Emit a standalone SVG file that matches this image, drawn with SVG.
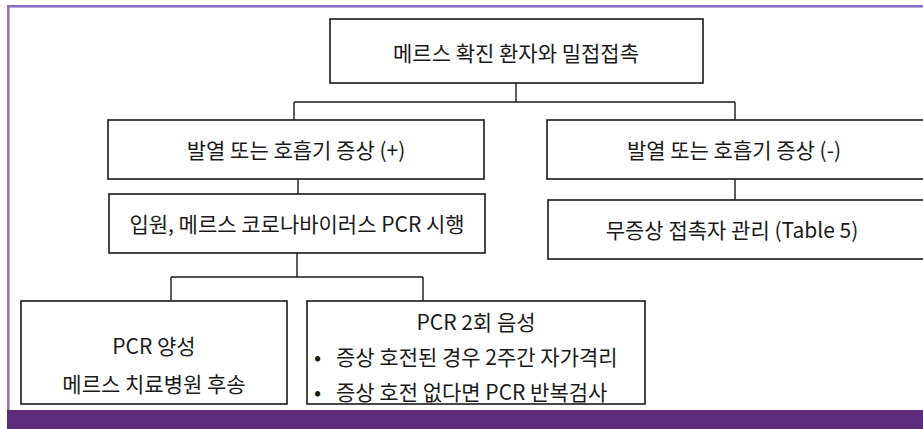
<svg xmlns="http://www.w3.org/2000/svg" width="923" height="429" viewBox="0 0 923 429">
<style>
.box{fill:#fff;stroke:#1a1a1a;stroke-width:1.6}
.con{fill:none;stroke:#1a1a1a;stroke-width:1.4}
text{font-family:"Noto Sans CJK KR","Noto Sans",sans-serif;font-size:21px;fill:#1a1a1a;dominant-baseline:central}
.c{text-anchor:middle}
</style>
<rect x="0" y="0" width="923" height="429" fill="#fff"/>
<rect x="7" y="5" width="916" height="2.6" fill="#8a70c8"/>
<rect x="7" y="5" width="2.6" height="406" fill="#8a70c8"/>
<rect x="7" y="410" width="916" height="19" fill="#5d2d7b"/>
<g id="connectors">
<path class="con" d="M516 83V102M294 102H735M294 102V120M735 102V120"/>
<path class="con" d="M298 179V194M735 179V200"/>
<path class="con" d="M297 253V277M171 277H423M171 277V301M423 277V301"/>
</g>
<g id="n1"><rect class="box" x="330" y="19" width="373" height="64"/><text class="c" x="516" y="52">메르스 확진 환자와 밀접접촉</text></g>
<g id="n2"><rect class="box" x="108" y="120" width="376" height="59"/><text class="c" x="296" y="149">발열 또는 호흡기 증상 (+)</text></g>
<g id="n3"><rect class="box" x="547" y="120" width="380" height="59"/><text class="c" x="734" y="149">발열 또는 호흡기 증상 (-)</text></g>
<g id="n4"><rect class="box" x="109" y="194" width="376" height="59"/><text class="c" x="297" y="223">입원, 메르스 코로나바이러스 PCR 시행</text></g>
<g id="n5"><rect class="box" x="548" y="200" width="380" height="59"/><text class="c" x="732" y="229">무증상 접촉자 관리 (Table 5)</text></g>
<g id="n6"><rect class="box" x="21" y="301" width="266" height="103"/><text class="c" x="154" y="345">PCR 양성</text><text class="c" x="154" y="383">메르스 치료병원 후송</text></g>
<g id="n7"><rect class="box" x="307" y="301" width="338" height="103"/><text class="c" x="476" y="321">PCR 2회 음성</text><text x="314" y="356">•</text><text x="336" y="356">증상 호전된 경우 2주간 자가격리</text><text x="314" y="391">•</text><text x="336" y="391">증상 호전 없다면 PCR 반복검사</text></g>
</svg>
